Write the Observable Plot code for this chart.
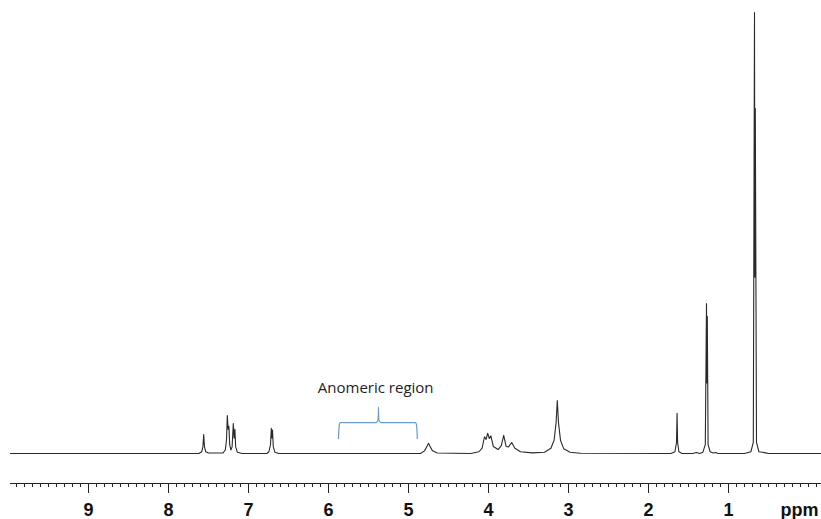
<!DOCTYPE html>
<html>
<head>
<meta charset="utf-8">
<script src="https://cdn.jsdelivr.net/npm/d3@7"></script>
<script src="https://cdn.jsdelivr.net/npm/@observablehq/plot@0.6"></script>
<style>
  html, body { margin: 0; padding: 0; background: #fff; }
  #chart svg { display: block; }
</style>
</head>
<body>
<div id="chart"></div>
<script>
// ---- Data ----
// Chemical shift range of the x axis (ppm, reversed)
const ppmLeft = 9.975;
const ppmRight = -0.1625;
// Major tick labels
const majorTicks = [1, 2, 3, 4, 5, 6, 7, 8, 9];
// Minor ticks every 0.1 ppm
const minorTicks = d3.range(-1, 100).map(i => i / 10);

// Spectrum trace: [ppm, relative intensity] (tallest peak = 100)
const spectrumPpm = [
  9.975, 7.62, 7.585, 7.57, 7.56, 7.55, 7.535, 7.50,
  7.32, 7.29, 7.275, 7.265, 7.255, 7.245, 7.235, 7.22, 7.205, 7.19, 7.18, 7.17, 7.16, 7.14, 7.08,
  6.77, 6.745, 6.725, 6.715, 6.707, 6.70, 6.69, 6.67, 6.62,
  4.85, 4.80, 4.77, 4.75, 4.73, 4.70, 4.64,
  4.22, 4.12, 4.08, 4.05, 4.03, 4.01, 3.99, 3.97, 3.94, 3.88, 3.84, 3.81, 3.78, 3.75, 3.71, 3.67, 3.60, 3.45,
  3.30, 3.22, 3.18, 3.155, 3.14, 3.125, 3.10, 3.06, 2.98, 2.85,
  1.72, 1.67, 1.65, 1.643, 1.636, 1.62, 1.58,
  1.45, 1.40, 1.36, 1.32, 1.29, 1.275, 1.27, 1.265, 1.255, 1.23, 1.19, 1.16, 1.13,
  0.80, 0.72, 0.69, 0.675, 0.67, 0.665, 0.65, 0.62, 0.55, 0.50, -0.1625
];
const spectrumIntensity = [
  0, 0, 0.4, 1.5, 4.3, 1.5, 0.4, 0.1,
  0.1, 0.8, 3, 8.6, 5.5, 6.2, 2, 0.8, 1.5, 6.8, 3.5, 5.5, 1.5, 0.3, 0,
  0, 0.4, 2, 5.7, 3.5, 5.3, 1.5, 0.3, 0,
  0, 0.6, 1.6, 2.3, 1.6, 0.6, 0.1,
  0, 0.4, 1.2, 3.8, 3.2, 4.6, 3.4, 4.0, 1.6, 0.9, 1.8, 4.1, 1.6, 1.5, 2.5, 1.2, 0.4, 0.15,
  0.3, 1.2, 3, 7, 12.0, 7, 3, 1.1, 0.3, 0.05,
  0, 0.4, 2.5, 9.1, 2.5, 0.4, 0,
  0, 0.25, 0, 0.3, 2, 34.0, 16, 31.1, 2, 0.4, 0.1, 0.25, 0,
  0, 0.4, 2.5, 100, 40, 78.2, 2.5, 0.4, 0.2, 0, 0
];

// Annotation: "Anomeric region" brace
const annotationText = "Anomeric region";
const braceFrom = 5.875;   // ppm
const braceTo = 4.89;      // ppm
const braceTip = 5.375;    // ppm
const braceFoot = 3.4;     // intensity level of brace ends
const braceBar = 7.0;      // intensity level of brace bar
const braceTop = 10.4;     // intensity level of brace tip
const labelLevel = 13.8;   // intensity level of the label baseline
const labelPpm = 5.41;

// ---- Build tables ----
const spectrum = spectrumPpm.map((p, i) => ({ppm: p, intensity: spectrumIntensity[i]}));
const c = 0.02;
const brace = [
  {ppm: braceFrom, v: braceFoot},
  {ppm: braceFrom - 0.01, v: braceBar - 0.5},
  {ppm: braceFrom - c, v: braceBar},
  {ppm: braceTip + 0.03, v: braceBar},
  {ppm: braceTip + 0.005, v: braceBar + 0.6},
  {ppm: braceTip, v: braceTop},
  {ppm: braceTip - 0.005, v: braceBar + 0.6},
  {ppm: braceTip - 0.03, v: braceBar},
  {ppm: braceTo + c, v: braceBar},
  {ppm: braceTo + 0.01, v: braceBar - 0.5},
  {ppm: braceTo, v: braceFoot}
];

const yMin = -6.8; // position of the axis line below the baseline

const chart = Plot.plot({
  width: 821,
  height: 519,
  marginLeft: 10,
  marginRight: 0,
  marginTop: 12,
  marginBottom: 36,
  style: {background: "#fff", overflow: "visible"},
  x: {domain: [ppmLeft, ppmRight], axis: null},
  y: {domain: [yMin, 100], axis: null},
  marks: [
    Plot.ruleY([yMin], {stroke: "#222", strokeWidth: 1}),
    Plot.axisX({
      ticks: minorTicks.filter(t => t > ppmRight && t < ppmLeft),
      tickSize: 4, tickFormat: () => "", stroke: "#222", label: null
    }),
    Plot.axisX({
      ticks: majorTicks,
      tickSize: 10,
      tickPadding: 10,
      tickFormat: d => String(d),
      stroke: "#222",
      fill: "#111",
      fontSize: 18,
      fontWeight: "bold",
      fontFamily: "Liberation Sans, Arial, sans-serif",
      label: "ppm",
      labelAnchor: "right",
      labelArrow: "none",
      labelOffset: 32
    }),
    Plot.line(spectrum, {x: "ppm", y: "intensity", stroke: "#2a2a2a", strokeWidth: 1.1}),
    Plot.line(brace, {x: "ppm", y: "v", stroke: "#6a9bd1", strokeWidth: 1.2, curve: "monotone-y"}),
    Plot.text([annotationText], {
      x: () => labelPpm, y: () => labelLevel, text: d => d,
      textAnchor: "middle", lineAnchor: "bottom",
      fontSize: 15, fontFamily: "Open Sans, sans-serif", fill: "#222"
    })
  ]
});

// style the axis label like the tick labels
chart.querySelectorAll("g[aria-label='x-axis label'] text").forEach(t => {
  t.setAttribute("font-weight", "bold");
  t.setAttribute("font-size", "18");
  t.setAttribute("font-family", "Liberation Sans, Arial, sans-serif");
  t.setAttribute("fill", "#111");
});
document.getElementById("chart").appendChild(chart);
</script>
</body>
</html>
